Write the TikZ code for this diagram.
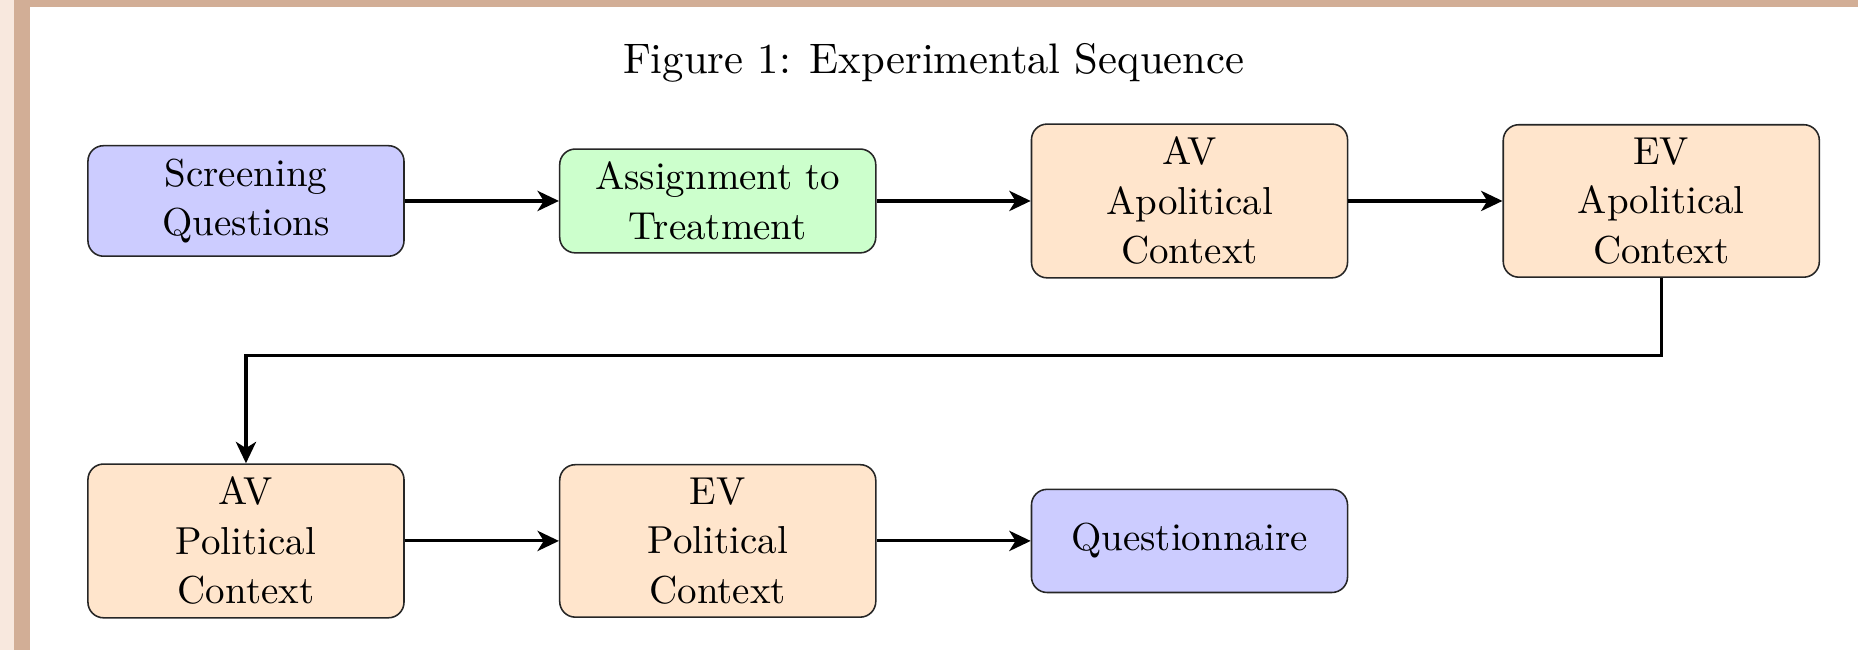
\documentclass[tikz,border=0pt]{standalone}
\usepackage{xcolor}
\usetikzlibrary{arrows.meta, positioning}

\definecolor{framelight}{RGB}{248,232,222}
\definecolor{framebrown}{RGB}{210,174,150}

\begin{document}
\begin{tikzpicture}[
    >={Stealth[length=5.5pt, width=5.2pt, inset=1.6pt]},
    % Box styles
    stagebox/.style={rectangle, draw=black!85, rounded corners=4pt, minimum width=2.85cm, minimum height=0.93cm, align=center, font=\fontsize{10}{12.7}\selectfont},
    screen/.style={stagebox, fill=blue!20},
    assign/.style={stagebox, fill=green!20},
    context/.style={stagebox, fill=orange!20},
    arr/.style={->, thick, draw=black}
]

% ========================================================
% PAGE AND FRAME
% ========================================================
\useasboundingbox (0,0) rectangle (16.754,-5.861);
\fill[white] (0,0) rectangle (16.754,-5.861);
\fill[framelight] (0,0) rectangle (0.126,-5.861);
\fill[framebrown] (0.126,0) rectangle (0.2705,-5.861);
\fill[framebrown] (0.126,0) rectangle (16.754,-0.063);

\node[font=\fontsize{10.95}{13}\selectfont, anchor=base] (title) at (8.42,-0.663) {Figure 1: Experimental Sequence};

% ========================================================
% FIRST ROW
% ========================================================
\node[screen] (screening) at (2.218,-1.812) {Screening\\Questions};

\node[assign, right=1.39cm of screening] (assignment) {Assignment to\\Treatment};
\draw[arr] (screening) -- (assignment);

\node[context, right=1.39cm of assignment] (avapol) {AV\\Apolitical\\Context};
\draw[arr] (assignment) -- (avapol);

\node[context, right=1.39cm of avapol] (evapol) {EV\\Apolitical\\Context};
\draw[arr] (avapol) -- (evapol);

% ========================================================
% SECOND ROW
% ========================================================
\node[context, below=1.86cm of screening] (avpol) {AV\\Political\\Context};
\draw[arr] (evapol.south) -- ++(0,-0.7) -| (avpol.north);

\node[context, right=1.39cm of avpol] (evpol) {EV\\Political\\Context};
\draw[arr] (avpol) -- (evpol);

\node[screen, right=1.39cm of evpol] (questionnaire) {Questionnaire};
\draw[arr] (evpol) -- (questionnaire);

\end{tikzpicture}
\end{document}
